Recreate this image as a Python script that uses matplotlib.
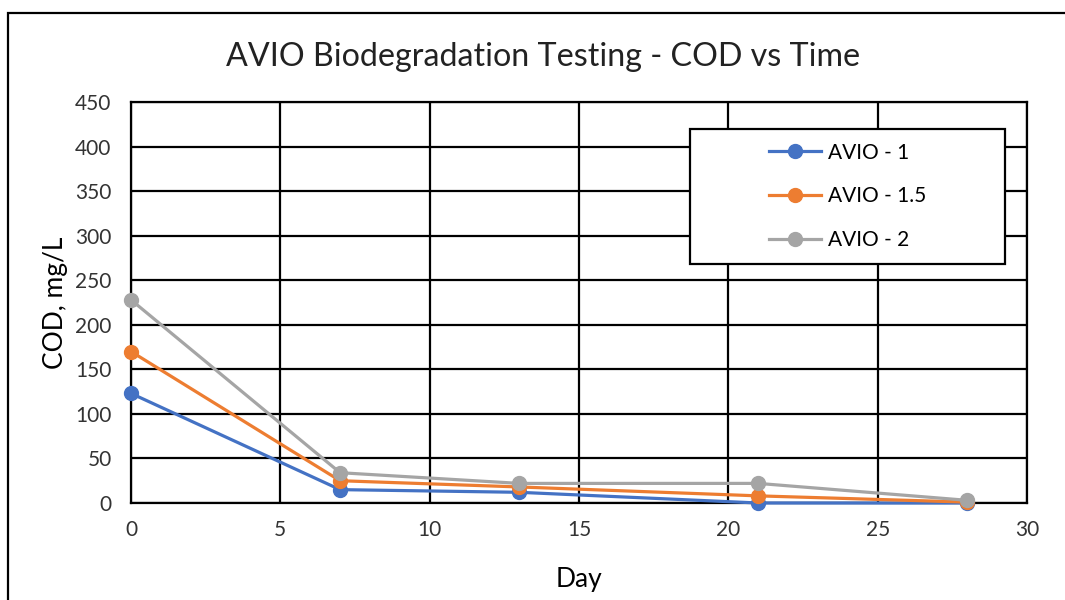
import numpy as np
import matplotlib.pyplot as plt
from matplotlib.patches import Rectangle

# Datos
days = [0, 7, 13, 21, 28]
avio_1 = [123, 15, 12, 0, 0]
avio_15 = [170, 25, 18, 8, 1]
avio_2 = [228, 34, 22, 22, 3]
series_names = ['AVIO - 1', 'AVIO - 1.5', 'AVIO - 2']
colors = ['#4472C4', '#ED7D31', '#A5A5A5']

plt.rcParams['font.family'] = ['Lato', 'DejaVu Sans']

fig = plt.figure(figsize=(10.65, 6), dpi=100)
ax = fig.add_axes([131 / 1065, 97 / 600, 896 / 1065, 401 / 600])

# Borde exterior del grafico
fig.patches.append(Rectangle((8 / 1065, -0.1), 1.2, 1 - 13 / 600 + 0.1,
                             transform=fig.transFigure, fill=False,
                             edgecolor='black', linewidth=1.6, clip_on=False))

for vals, name, c in zip([avio_1, avio_15, avio_2], series_names, colors):
    ax.plot(days, vals, color=c, linewidth=2.3, marker='o', markersize=10,
            label=name, zorder=3, clip_on=False)

ax.set_xlim(0, 30)
ax.set_ylim(0, 450)
ax.set_xticks(np.arange(0, 31, 5))
ax.set_yticks(np.arange(0, 451, 50))
ax.grid(True, color='black', linewidth=1.6, zorder=1)
ax.set_axisbelow(True)
for s in ax.spines.values():
    s.set_linewidth(1.6)
ax.tick_params(length=0, labelsize=15, pad=12, colors='#333333')
ax.tick_params(axis='y', pad=14)

ax.set_xlabel('Day', fontsize=19, labelpad=20)
ax.set_ylabel('COD, mg/L', fontsize=19, labelpad=5)
fig.text(543 / 1065, 1 - 57 / 600, 'AVIO Biodegradation Testing - COD vs Time',
         fontsize=23.2, ha='center', va='center', color='#222222')

# Leyenda con marco propio
x0 = (690 - 131) / 896
y0 = (503 - 264) / 401
w = (1005 - 690) / 896
h = (264 - 129) / 401
ax.add_patch(Rectangle((x0, y0), w, h, transform=ax.transAxes, facecolor='white',
                       edgecolor='black', linewidth=1.6, zorder=4))
leg = ax.legend(loc='center', bbox_to_anchor=(x0 + w / 2, y0 + h / 2),
                frameon=False, fontsize=15, labelspacing=1.15,
                handlelength=2.5, handletextpad=0.3)
leg.set_zorder(5)

plt.savefig('out.png', dpi=100)
